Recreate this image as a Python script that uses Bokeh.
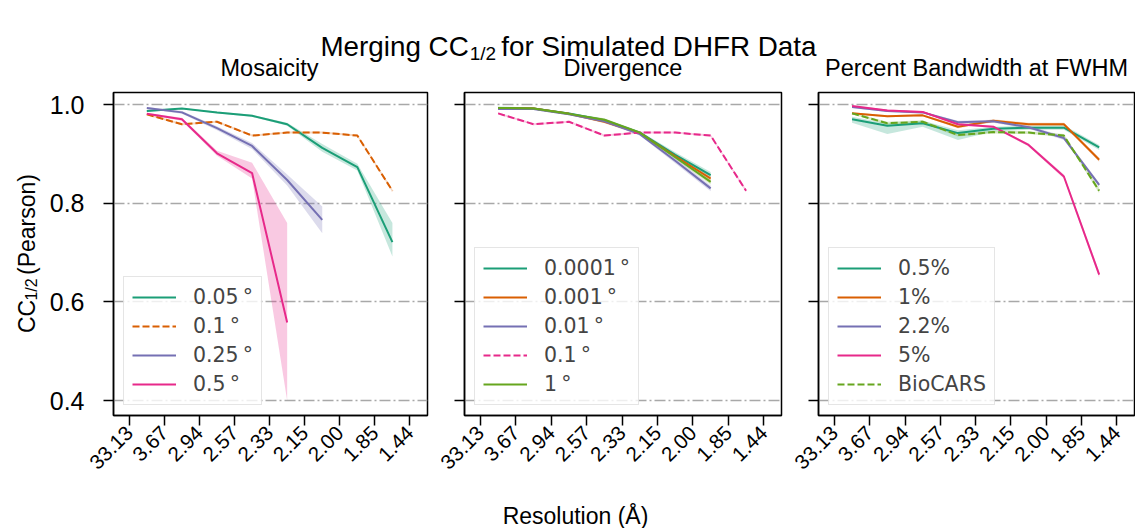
import numpy as np
from bokeh.plotting import figure
from bokeh.layouts import column, row
from bokeh.models import Range1d, FixedTicker
from bokeh.core.properties import value
from bokeh.embed import file_html
from bokeh.resources import INLINE

# ---------------- data ----------------
res_labels = ["33.13", "3.67", "2.94", "2.57", "2.33", "2.15", "2.00", "1.85", "1.44"]
bin_mid = [0.5, 1.5, 2.5, 3.5, 4.5, 5.5, 6.5, 7.5]
y_ticks = [0.4, 0.6, 0.8, 1.0]

titles = ["Mosaicity", "Divergence", "Percent Bandwidth at FWHM"]

# Mosaicity
mos_labels = ["0.05\u2009°", "0.1\u2009°", "0.25\u2009°", "0.5\u2009°"]
mos_005 = [0.987, 0.992, 0.984, 0.977, 0.960, 0.912, 0.873, 0.721]
mos_005_lo = [0.985, 0.991, 0.982, 0.975, 0.957, 0.904, 0.866, 0.692]
mos_005_hi = [0.989, 0.993, 0.986, 0.979, 0.963, 0.920, 0.880, 0.760]
mos_01 = [0.980, 0.960, 0.965, 0.937, 0.943, 0.943, 0.937, 0.825]
mos_01_lo = [0.978, 0.958, 0.963, 0.935, 0.941, 0.941, 0.935, 0.822]
mos_01_hi = [0.982, 0.962, 0.967, 0.939, 0.945, 0.945, 0.939, 0.828]
mos_025 = [0.993, 0.984, 0.952, 0.916, 0.847, 0.766]
mos_025_lo = [0.991, 0.981, 0.948, 0.910, 0.836, 0.739]
mos_025_hi = [0.995, 0.987, 0.956, 0.922, 0.858, 0.793]
mos_05 = [0.981, 0.970, 0.901, 0.861, 0.558]
mos_05_lo = [0.979, 0.967, 0.896, 0.850, 0.400]
mos_05_hi = [0.983, 0.973, 0.906, 0.882, 0.760]

# Divergence
div_labels = ["0.0001\u2009°", "0.001\u2009°", "0.01\u2009°", "0.1\u2009°", "1\u2009°"]
div_00001 = [0.993, 0.992, 0.982, 0.968, 0.943, 0.898, 0.857]
div_00001_sd = [0.003, 0.002, 0.002, 0.003, 0.003, 0.005, 0.006]
div_0001 = [0.992, 0.992, 0.981, 0.965, 0.942, 0.895, 0.850]
div_0001_sd = [0.002, 0.002, 0.002, 0.003, 0.003, 0.004, 0.005]
div_001 = [0.991, 0.991, 0.980, 0.966, 0.940, 0.886, 0.830]
div_001_sd = [0.002, 0.002, 0.002, 0.003, 0.003, 0.005, 0.006]
div_01 = [0.982, 0.960, 0.965, 0.937, 0.943, 0.943, 0.937, 0.825]
div_01_sd = [0.002, 0.002, 0.002, 0.002, 0.002, 0.002, 0.002, 0.003]
div_1 = [0.993, 0.992, 0.981, 0.969, 0.943, 0.893, 0.843]
div_1_sd = [0.002, 0.002, 0.002, 0.003, 0.003, 0.004, 0.005]

# Percent bandwidth
bw_labels = ["0.5%", "1%", "2.2%", "5%", "BioCARS"]
bw_05 = [0.970, 0.957, 0.962, 0.942, 0.951, 0.953, 0.953, 0.913]
bw_05_lo = [0.963, 0.940, 0.955, 0.928, 0.945, 0.949, 0.949, 0.908]
bw_05_hi = [0.975, 0.962, 0.967, 0.948, 0.955, 0.957, 0.958, 0.918]
bw_1 = [0.982, 0.976, 0.978, 0.955, 0.967, 0.960, 0.960, 0.888]
bw_1_sd = [0.002, 0.002, 0.002, 0.003, 0.003, 0.003, 0.003, 0.004]
bw_22 = [0.995, 0.987, 0.984, 0.964, 0.966, 0.954, 0.932, 0.837]
bw_22_sd = [0.002, 0.002, 0.002, 0.003, 0.003, 0.003, 0.004, 0.004]
bw_5 = [0.997, 0.988, 0.985, 0.960, 0.955, 0.918, 0.854, 0.655]
bw_5_sd = [0.001, 0.002, 0.002, 0.002, 0.002, 0.003, 0.004, 0.006]
bw_bio = [0.982, 0.962, 0.965, 0.938, 0.944, 0.943, 0.937, 0.825]
bw_bio_sd = [0.002, 0.003, 0.003, 0.003, 0.003, 0.003, 0.003, 0.005]

# ---------------- style ----------------
C_GREEN, C_ORANGE, C_PURPLE, C_PINK, C_LIME = "#1b9e77", "#d95f02", "#7570b3", "#e7298a", "#66a61e"
SANS = "Liberation Sans"
LEG_FONT = "DejaVu Sans"


def lohi(y, sd):
    return [a - b for a, b in zip(y, sd)], [a + b for a, b in zip(y, sd)]


panels = [
    [
        (mos_labels[0], mos_005, mos_005_lo, mos_005_hi, C_GREEN, "solid"),
        (mos_labels[1], mos_01, mos_01_lo, mos_01_hi, C_ORANGE, "7 3"),
        (mos_labels[2], mos_025, mos_025_lo, mos_025_hi, C_PURPLE, "solid"),
        (mos_labels[3], mos_05, mos_05_lo, mos_05_hi, C_PINK, "solid"),
    ],
    [
        (div_labels[0], div_00001, *lohi(div_00001, div_00001_sd), C_GREEN, "solid"),
        (div_labels[1], div_0001, *lohi(div_0001, div_0001_sd), C_ORANGE, "solid"),
        (div_labels[2], div_001, *lohi(div_001, div_001_sd), C_PURPLE, "solid"),
        (div_labels[3], div_01, *lohi(div_01, div_01_sd), C_PINK, "7 3"),
        (div_labels[4], div_1, *lohi(div_1, div_1_sd), C_LIME, "solid"),
    ],
    [
        (bw_labels[0], bw_05, bw_05_lo, bw_05_hi, C_GREEN, "solid"),
        (bw_labels[1], bw_1, *lohi(bw_1, bw_1_sd), C_ORANGE, "solid"),
        (bw_labels[2], bw_22, *lohi(bw_22, bw_22_sd), C_PURPLE, "solid"),
        (bw_labels[3], bw_5, *lohi(bw_5, bw_5_sd), C_PINK, "solid"),
        (bw_labels[4], bw_bio, *lohi(bw_bio, bw_bio_sd), C_LIME, "7 3"),
    ],
]

# ---------------- layout (pixels) ----------------
TOTAL_W = 1135
ROW_H = 400
TOP_H = 90
BOT_H = 38
YSTRIP_W = 46
B_TOP, B_BOT = 2, 75
FRAME_H = ROW_H - B_TOP - B_BOT
fig_specs = [(384, 65, 3), (354, 34, 3), (351, 34, 1)]  # width, border left, border right
FRAME_W = [w - l - r for w, l, r in fig_specs]


def make_panel(idx):
    w, bl, br = fig_specs[idx]
    p = figure(width=w, height=ROW_H, x_range=Range1d(-0.45, 8.5), y_range=Range1d(0.3696, 1.0243),
               output_backend="svg", toolbar_location=None,
               min_border_left=bl, min_border_right=br, min_border_top=B_TOP, min_border_bottom=B_BOT)
    p.xgrid.visible = False
    p.xaxis.ticker = FixedTicker(ticks=list(range(len(res_labels))))
    p.xaxis.major_label_overrides = {i: lab for i, lab in enumerate(res_labels)}
    p.xaxis.major_label_orientation = np.pi / 4
    p.xaxis.major_label_text_font = SANS
    p.xaxis.major_label_text_font_size = "20.5px"
    p.xaxis.major_label_standoff = 4
    p.yaxis.ticker = FixedTicker(ticks=y_ticks)
    if idx == 0:
        p.yaxis.major_label_overrides = {t: f"{t:.1f}" for t in y_ticks}
        p.yaxis.major_label_text_font_size = "25px"
        p.yaxis.major_label_standoff = 19
    else:
        p.yaxis.major_label_overrides = {t: "" for t in y_ticks}
        p.yaxis.major_label_standoff = 0
    p.yaxis.major_label_text_font = SANS
    p.axis.major_label_text_color = "black"
    p.axis.minor_tick_line_color = None
    p.axis.major_tick_in = 0
    p.axis.major_tick_out = 10
    p.axis.major_tick_line_width = 1.5
    p.axis.major_tick_line_color = "black"
    p.axis.axis_line_width = 1.5
    p.axis.axis_line_color = "black"
    p.outline_line_color = "black"
    p.outline_line_width = 1.5
    p.outline_line_alpha = 1.0
    p.ygrid.grid_line_color = "#a8a8a8"
    p.ygrid.grid_line_width = 1.6
    p.ygrid.grid_line_dash = "11 3 2 3"

    series = panels[idx]
    for lab, y, lo, hi, col, dash in series:
        xs = bin_mid[:len(y)]
        p.varea(x=xs, y1=lo, y2=hi, fill_color=col, fill_alpha=0.25)
    for lab, y, lo, hi, col, dash in series:
        xs = bin_mid[:len(y)]
        p.line(x=xs, y=y, line_color=col, line_width=2, line_dash=dash, legend_label=lab)

    lg = p.legend[0]
    lg.location = "bottom_left"
    lg.margin = 10
    lg.padding = 8
    lg.spacing = 5
    lg.glyph_width = 44
    lg.glyph_height = 18
    lg.label_height = 18
    lg.label_standoff = 17
    lg.label_text_font = LEG_FONT
    lg.label_text_font_size = "20.5px"
    lg.border_line_color = "#cccccc"
    lg.border_line_width = 1.5
    lg.background_fill_alpha = 0.8
    return p


def strip(w, h, ymax=None, **borders):
    s = figure(width=w, height=h, x_range=Range1d(0, w), y_range=Range1d(0, ymax if ymax else h),
               output_backend="svg", toolbar_location=None,
               x_axis_location=None, y_axis_location=None, min_border=0)
    for k, v in borders.items():
        setattr(s, k, v)
    s.grid.visible = False
    s.outline_line_color = None
    return s


def txt(s, x, y, t, size, align="left", angle=0.0, baseline="alphabetic", font=SANS):
    s.text(x=[x], y=[y], text=[t], angle=angle, text_font=value(font), text_font_size=value(size),
           text_align=align, text_baseline=baseline, text_color="black")


# top strip: suptitle + panel titles
top = strip(TOTAL_W, TOP_H)
ST = 27.8
SUB = 19.0
K = 0.955  # rendered width factor
w_main = 5.334 * ST * K
w_sub = 1.39 * SUB * K
w_sp = 0.278 * ST * K
w_rest = 12.111 * ST * K
start = 574.5 - (w_main + w_sub + w_sp + w_rest) / 2
X1 = start + w_main
txt(top, X1, 44.5, "Merging CC", f"{ST}px", align="right")
txt(top, X1 + 1, 37.5, "1/2", f"{SUB}px")
txt(top, X1 + w_sub + w_sp, 44.5, "for Simulated DHFR Data", f"{ST}px")
frame_lefts = [YSTRIP_W + fig_specs[0][1],
               YSTRIP_W + fig_specs[0][0] + fig_specs[1][1],
               YSTRIP_W + fig_specs[0][0] + fig_specs[1][0] + fig_specs[2][1]]
for t, fl, fw in zip(titles, frame_lefts, FRAME_W):
    txt(top, fl + fw / 2, 23, t, "23.5px", align="center")

# left strip: y label (frame aligned with the panels' frames; y in px above frame bottom)
ys = strip(YSTRIP_W, ROW_H, ymax=FRAME_H, min_border_top=B_TOP, min_border_bottom=B_BOT)
txt(ys, 26, 99, "CC", "23px", align="center", angle=np.pi / 2, baseline="middle")
txt(ys, 31, 126, "1/2", "16px", align="center", angle=np.pi / 2, baseline="middle")
txt(ys, 26, 191, "(Pearson)", "23px", align="center", angle=np.pi / 2, baseline="middle")

# bottom strip: x label
bs = strip(TOTAL_W, BOT_H)
txt(bs, 575, 13, "Resolution (Å)", "23px", align="center")

figs = [make_panel(i) for i in range(3)]
layout = column(top, row(ys, *figs), bs)

open("out.html", "w").write(file_html(layout, INLINE))
